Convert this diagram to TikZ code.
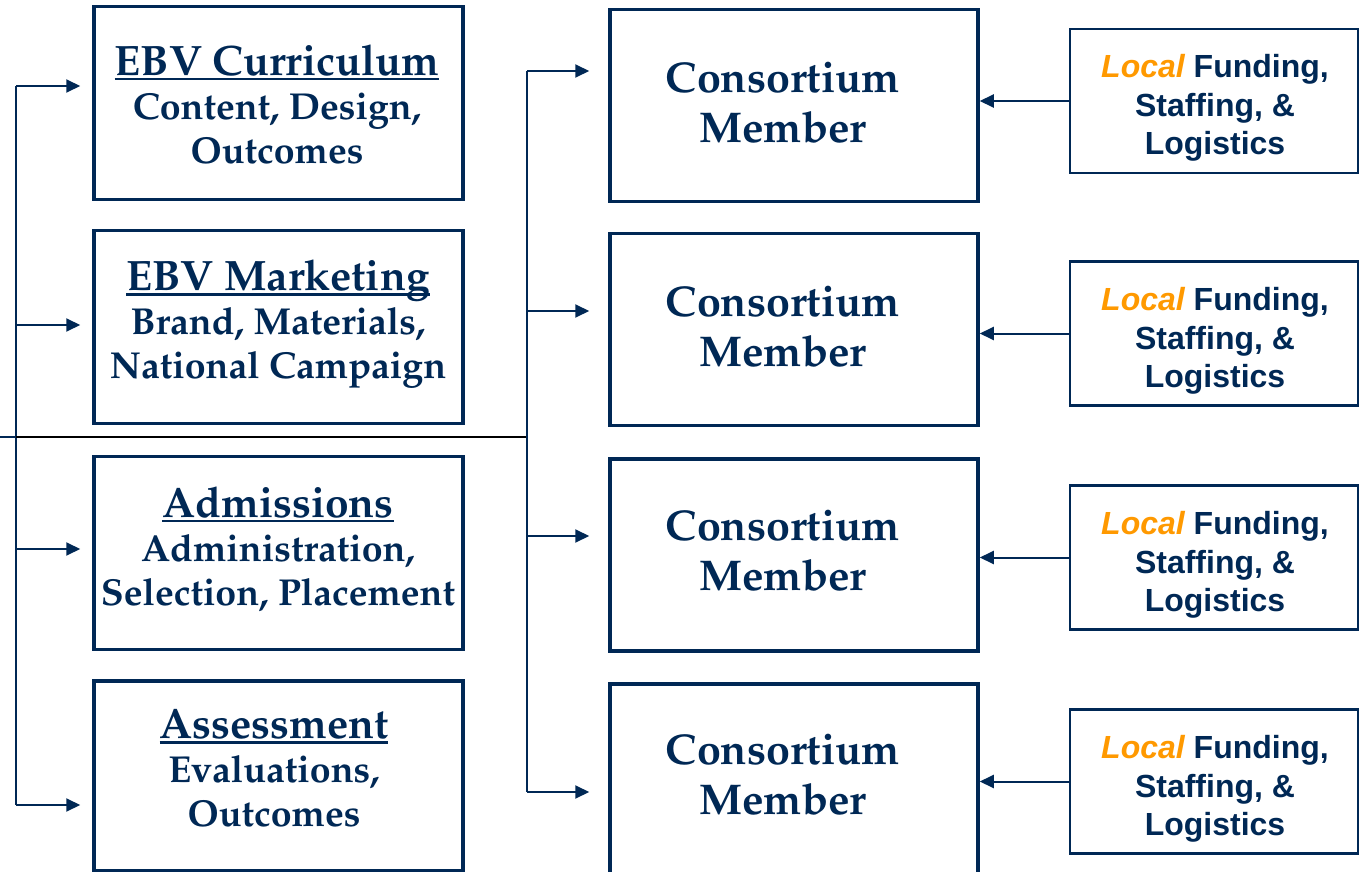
\documentclass[tikz,border=0pt]{standalone}
\usepackage[T1]{fontenc}
\usepackage{fontspec}
\newfontfamily\arialf{Liberation Sans}
\usetikzlibrary{arrows.meta}
\definecolor{navy}{RGB}{0,40,85}
\definecolor{lorange}{RGB}{255,153,0}
\newcommand\palb{\fontencoding{T1}\fontfamily{ppl}\fontseries{b}\selectfont}
\newcommand\myul[1]{\sbox0{#1}\rlap{\rule[-5pt]{\wd0}{2.5pt}}\usebox0}
\newcommand\hd[1]{{\fontsize{42.5}{44}\selectfont\myul{#1}}}
\begin{document}
\begin{tikzpicture}[x=1pt,y=-1pt,
  leftbox/.style={draw=navy, line width=3.5pt, minimum width=369pt, minimum height=193pt, inner sep=0pt},
  midbox/.style={draw=navy, line width=3.5pt, minimum width=368pt, minimum height=192pt, inner sep=0pt},
  rightbox/.style={draw=navy, line width=2.5pt, minimum width=288pt, minimum height=144pt, inner sep=0pt},
  lefttext/.style={align=center, text=navy, inner sep=0pt, font=\palb\fontsize{37.5}{44}\selectfont},
  midtext/.style={align=center, text=navy, inner sep=0pt, font=\palb\fontsize{43}{50.5}\selectfont},
  righttext/.style={align=center, text=navy, inner sep=0pt, font=\arialf\bfseries\fontsize{32}{38.5}\selectfont},
  arr/.style={draw=navy, line width=2pt, -{Triangle[length=14pt,width=13pt]}},
  conn/.style={draw=navy, line width=2pt}
]
\useasboundingbox (0,0) rectangle (1361,872);

% left column
\node[leftbox] (b1) at (278.5,103) {};
\node[leftbox] (b2) at (278.5,327) {};
\node[leftbox] (b3) at (278.5,553) {};
\node[leftbox, minimum height=190pt] (b4) at (278.5,776) {};
\node[lefttext] (t1) at (277,104) {\hd{EBV Curriculum}\\Content, Design,\\Outcomes};
\node[lefttext] (t2) at (278,324) {\hd{EBV Marketing}\\Brand, Materials,\\National Campaign};
\node[lefttext] (t3) at (278,549) {\hd{Admissions}\\Administration,\\Selection, Placement};
\node[lefttext] (t4) at (274,768) {\hd{Assessment}\\Evaluations,\\Outcomes};

% middle column
\node[midbox] (m1) at (794,105.5) {};
\node[midbox] (m2) at (794,329.5) {};
\node[midbox] (m3) at (794,555) {};
\node[midbox] (m4) at (794,780) {};
\node[midtext] (n1) at (783,102.5) {Consortium\\Member};
\node[midtext] (n2) at (783,326.5) {Consortium\\Member};
\node[midtext] (n3) at (783,550.5) {Consortium\\Member};
\node[midtext] (n4) at (783,774.5) {Consortium\\Member};

% right column
\node[rightbox] (r1) at (1214,101) {};
\node[rightbox] (r2) at (1214,333.5) {};
\node[rightbox] (r3) at (1214,557.5) {};
\node[rightbox] (r4) at (1214,781.5) {};
\node[righttext] (s1) at (1215,108) {{\color{lorange}\itshape Local} Funding,\\Staffing, \&\\Logistics};
\node[righttext] (s2) at (1215,341) {{\color{lorange}\itshape Local} Funding,\\Staffing, \&\\Logistics};
\node[righttext] (s3) at (1215,565) {{\color{lorange}\itshape Local} Funding,\\Staffing, \&\\Logistics};
\node[righttext] (s4) at (1215,789) {{\color{lorange}\itshape Local} Funding,\\Staffing, \&\\Logistics};

% left bus
\coordinate (L1) at (16,86);
\coordinate (L2) at (16,325);
\coordinate (L3) at (16,549);
\coordinate (L4) at (16,805);
\coordinate (H0) at (0,437);
\coordinate (HL) at (16,437);
\coordinate (HM) at (527,437);
\draw[conn] (L1) -- (L4);
\draw[conn] (H0) -- (HL);
\draw[black, line width=1.3pt] (HL) -- (HM);
\foreach \i in {1,...,4}{
  \draw[arr, shorten >=12pt] (L\i) -- (L\i -| b\i.west);
}

% middle bus
\coordinate (M1) at (527,71);
\coordinate (M2) at (527,311);
\coordinate (M3) at (527,536);
\coordinate (M4) at (527,792);
\draw[conn] (M1) -- (M4);
\foreach \i in {1,...,4}{
  \draw[arr, shorten >=19pt] (M\i) -- (M\i -| m\i.west);
}

% right arrows
\foreach \i in {1,...,4}{
  \draw[arr] (r\i.west) -- (r\i.west -| m\i.east);
}
\end{tikzpicture}
\end{document}
